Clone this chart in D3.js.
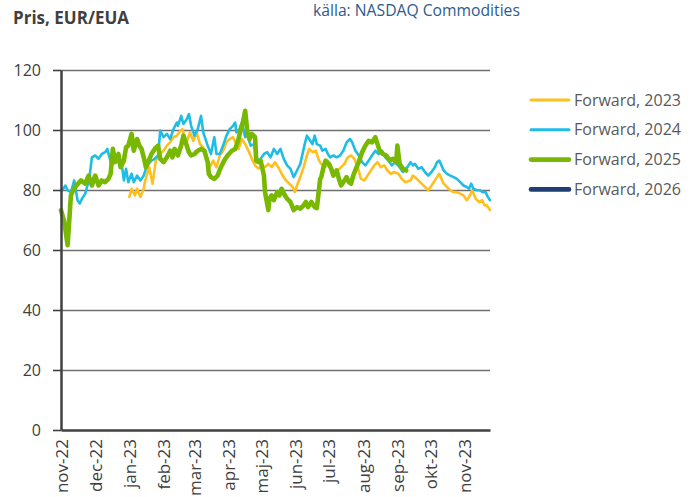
<!DOCTYPE html>
<html><head><meta charset="utf-8">
<script src="https://cdn.jsdelivr.net/npm/d3@7"></script>
<style>
html,body{margin:0;padding:0;background:#fff;}
svg{display:block;font-family:"Open Sans",sans-serif;}
</style></head>
<body><svg id="c" width="700" height="497"></svg>
<script>
// ---------- DATA ----------
const seriesNames = ["Forward, 2023", "Forward, 2024", "Forward, 2025", "Forward, 2026"];
const seriesColors = ["#FFC01E", "#1FBDE6", "#78B800", "#1B3F73"];
const xTickLabels = ["nov-22","dec-22","jan-23","feb-23","mar-23","apr-23","maj-23","jun-23","jul-23","aug-23","sep-23","okt-23","nov-23"];
const yTickValues = [0, 20, 40, 60, 80, 100, 120];

const dates2023 = ["2023-01-02","2023-01-04","2023-01-07","2023-01-09","2023-01-12","2023-01-15","2023-01-16","2023-01-20","2023-01-23","2023-01-26","2023-01-30","2023-02-02","2023-02-05","2023-02-08","2023-02-11","2023-02-14","2023-02-16","2023-02-19","2023-02-23","2023-02-26","2023-03-01","2023-03-04","2023-03-07","2023-03-10","2023-03-13","2023-03-16","2023-03-19","2023-03-22","2023-03-25","2023-03-28","2023-03-31","2023-04-03","2023-04-06","2023-04-11","2023-04-14","2023-04-17","2023-04-20","2023-04-23","2023-04-26","2023-04-29","2023-05-02","2023-05-05","2023-05-08","2023-05-11","2023-05-14","2023-05-17","2023-05-21","2023-05-24","2023-05-27","2023-05-30","2023-06-01","2023-06-03","2023-06-06","2023-06-09","2023-06-12","2023-06-14","2023-06-17","2023-06-20","2023-06-23","2023-06-25","2023-06-28","2023-07-01","2023-07-04","2023-07-07","2023-07-10","2023-07-13","2023-07-16","2023-07-19","2023-07-22","2023-07-25","2023-07-28","2023-07-31","2023-08-03","2023-08-06","2023-08-09","2023-08-12","2023-08-15","2023-08-18","2023-08-21","2023-08-24","2023-08-27","2023-08-30","2023-09-03","2023-09-06","2023-09-09","2023-09-14","2023-09-16","2023-09-18","2023-09-21","2023-09-24","2023-09-27","2023-09-30","2023-10-03","2023-10-06","2023-10-08","2023-10-10","2023-10-12","2023-10-14","2023-10-17","2023-10-20","2023-10-23","2023-10-26","2023-10-29","2023-11-01","2023-11-04","2023-11-06","2023-11-09","2023-11-12","2023-11-15","2023-11-18","2023-11-20","2023-11-22","2023-11-25"];
const values2023 = [77.7,80.4,78.2,80.4,77.7,80.4,82.6,87.6,82.1,89.8,92.0,93.1,94.8,95.9,97.6,98.1,99.2,100.3,95.9,99.2,96.4,99.2,95.3,94.2,90.9,87.6,89.8,87.6,91.5,93.1,95.9,97.0,97.6,93.7,97.0,95.3,93.1,90.4,88.2,87.1,88.2,87.6,88.7,87.6,89.3,87.6,84.8,83.2,82.1,81.0,79.3,81.5,84.3,87.6,91.5,93.7,92.6,93.1,89.8,88.7,87.6,88.2,87.1,86.0,86.5,87.6,88.7,90.9,91.5,90.4,87.6,83.7,83.2,84.8,86.5,88.2,89.3,87.6,88.2,86.5,85.4,86.0,85.4,83.7,82.6,83.2,84.8,84.3,83.2,82.1,81.0,79.9,81.5,83.2,84.3,85.4,83.7,82.1,81.0,79.9,79.3,79.3,78.8,78.2,76.6,77.7,79.9,77.1,76.0,76.6,74.9,74.9,73.3];

const dates2024 = ["2022-11-01","2022-11-03","2022-11-05","2022-11-07","2022-11-10","2022-11-13","2022-11-16","2022-11-18","2022-11-20","2022-11-23","2022-11-25","2022-11-27","2022-11-29","2022-12-02","2022-12-05","2022-12-08","2022-12-11","2022-12-13","2022-12-15","2022-12-17","2022-12-20","2022-12-23","2022-12-26","2022-12-28","2022-12-30","2023-01-01","2023-01-04","2023-01-06","2023-01-09","2023-01-12","2023-01-15","2023-01-18","2023-01-22","2023-01-25","2023-01-28","2023-01-30","2023-02-02","2023-02-05","2023-02-08","2023-02-11","2023-02-14","2023-02-15","2023-02-18","2023-02-20","2023-02-23","2023-02-25","2023-02-27","2023-03-02","2023-03-05","2023-03-08","2023-03-10","2023-03-14","2023-03-17","2023-03-20","2023-03-22","2023-03-25","2023-03-28","2023-03-31","2023-04-03","2023-04-06","2023-04-08","2023-04-09","2023-04-12","2023-04-14","2023-04-17","2023-04-18","2023-04-22","2023-04-25","2023-04-27","2023-04-30","2023-05-04","2023-05-07","2023-05-10","2023-05-13","2023-05-16","2023-05-19","2023-05-22","2023-05-25","2023-05-28","2023-05-31","2023-06-03","2023-06-06","2023-06-08","2023-06-10","2023-06-12","2023-06-14","2023-06-17","2023-06-19","2023-06-21","2023-06-24","2023-06-26","2023-06-29","2023-07-01","2023-07-03","2023-07-06","2023-07-09","2023-07-12","2023-07-15","2023-07-18","2023-07-21","2023-07-23","2023-07-26","2023-07-29","2023-08-01","2023-08-04","2023-08-07","2023-08-10","2023-08-13","2023-08-16","2023-08-19","2023-08-22","2023-08-25","2023-08-28","2023-08-31","2023-09-04","2023-09-07","2023-09-11","2023-09-14","2023-09-16","2023-09-18","2023-09-21","2023-09-24","2023-09-27","2023-09-30","2023-10-03","2023-10-06","2023-10-08","2023-10-10","2023-10-12","2023-10-14","2023-10-17","2023-10-20","2023-10-23","2023-10-26","2023-10-29","2023-11-01","2023-11-04","2023-11-06","2023-11-08","2023-11-10","2023-11-13","2023-11-16","2023-11-18","2023-11-21","2023-11-23","2023-11-25"];
const values2024 = [79.9,80.4,81.5,79.9,79.3,83.2,76.6,75.5,77.1,78.8,81.5,84.8,90.9,91.5,90.4,92.0,92.6,93.7,90.9,88.2,89.8,89.3,88.7,83.2,87.1,82.6,85.4,82.6,84.8,83.2,84.8,88.2,89.8,90.4,91.5,99.8,97.6,98.7,97.0,100.3,102.5,101.4,104.7,102.0,103.6,105.3,101.4,98.1,100.3,104.7,99.2,94.8,92.0,97.6,92.0,92.0,94.8,98.1,100.3,101.4,102.5,99.2,100.3,102.5,97.6,99.2,94.8,95.3,90.9,89.8,92.0,92.6,90.9,93.7,92.0,93.7,90.4,88.2,87.1,84.3,86.5,88.7,92.0,95.3,98.1,97.0,95.3,98.1,95.3,94.8,93.1,93.7,92.0,90.9,91.5,90.9,91.5,93.1,95.9,97.0,95.9,93.1,91.5,89.3,88.2,89.8,91.5,93.1,92.0,93.1,90.9,89.8,88.2,89.3,87.6,86.0,87.6,89.3,88.2,88.7,87.1,87.6,86.0,84.8,86.0,87.6,89.3,89.8,88.2,86.5,85.4,84.8,84.3,83.7,82.6,81.5,81.0,80.4,82.1,80.4,79.9,79.9,79.3,79.3,77.7,76.6];

const dates2025 = ["2022-11-01","2022-11-04","2022-11-07","2022-11-10","2022-11-12","2022-11-15","2022-11-19","2022-11-23","2022-11-26","2022-11-29","2022-12-02","2022-12-05","2022-12-08","2022-12-11","2022-12-14","2022-12-16","2022-12-18","2022-12-20","2022-12-23","2022-12-25","2022-12-28","2022-12-30","2023-01-01","2023-01-04","2023-01-06","2023-01-09","2023-01-11","2023-01-13","2023-01-15","2023-01-17","2023-01-19","2023-01-22","2023-01-25","2023-01-28","2023-01-30","2023-02-02","2023-02-05","2023-02-08","2023-02-10","2023-02-12","2023-02-15","2023-02-18","2023-02-20","2023-02-23","2023-02-25","2023-02-27","2023-03-02","2023-03-05","2023-03-08","2023-03-11","2023-03-14","2023-03-15","2023-03-17","2023-03-20","2023-03-23","2023-03-26","2023-03-29","2023-04-01","2023-04-05","2023-04-08","2023-04-11","2023-04-13","2023-04-15","2023-04-17","2023-04-19","2023-04-21","2023-04-23","2023-04-26","2023-04-27","2023-04-29","2023-05-01","2023-05-04","2023-05-05","2023-05-08","2023-05-09","2023-05-11","2023-05-13","2023-05-16","2023-05-18","2023-05-20","2023-05-23","2023-05-25","2023-05-28","2023-05-31","2023-06-03","2023-06-06","2023-06-09","2023-06-11","2023-06-13","2023-06-16","2023-06-19","2023-06-21","2023-06-24","2023-06-25","2023-06-27","2023-06-29","2023-07-02","2023-07-04","2023-07-06","2023-07-09","2023-07-11","2023-07-13","2023-07-15","2023-07-18","2023-07-20","2023-07-22","2023-07-24","2023-07-27","2023-07-29","2023-08-01","2023-08-04","2023-08-07","2023-08-10","2023-08-13","2023-08-15","2023-08-17","2023-08-20","2023-08-23","2023-08-26","2023-08-29","2023-09-01","2023-09-02","2023-09-04","2023-09-07","2023-09-10"];
const values2025 = [73.3,69.4,61.6,78.2,79.9,81.5,83.2,82.1,84.8,81.5,84.8,81.5,83.2,82.6,83.7,85.4,93.7,89.3,92.0,87.6,89.8,94.2,94.8,98.7,93.1,97.0,94.8,93.7,90.9,87.6,89.3,92.0,93.7,94.8,90.4,89.3,90.9,93.1,90.9,93.7,91.5,94.8,98.1,94.8,92.6,91.5,92.0,93.1,93.7,93.1,89.3,85.4,84.3,83.7,84.8,87.6,89.8,91.5,93.1,93.7,97.0,100.3,102.5,106.4,99.2,97.0,98.7,97.6,89.8,89.3,89.8,84.8,79.3,73.3,77.1,78.2,76.6,79.3,78.2,80.4,78.2,77.1,76.0,73.3,74.3,73.8,74.9,76.0,74.3,76.0,74.3,74.0,83.7,84.3,87.6,89.8,88.7,87.1,84.8,86.5,83.7,81.5,82.6,84.3,82.6,82.1,84.8,87.6,89.3,92.6,94.8,96.4,95.9,97.6,95.3,93.1,92.0,91.5,89.8,90.4,89.3,94.8,88.7,87.1,86.5];

const dates2026 = [];
const values2026 = [];

// ---------- CHART ----------
const svg = d3.select("#c");
const parse = d3.timeParse("%Y-%m-%d");
const mLeft = 61, mRight = 490, mTop = 70, mBottom = 430;

const x = d3.scaleTime().domain([parse("2022-11-01"), parse("2023-11-25")]).range([mLeft, mRight]);
const y = d3.scaleLinear().domain([0, 120]).range([mBottom, mTop]);

const axisColor = "#404040";
const gridColor = "#6f6f6f";

// gridlines
svg.append("g").attr("transform", `translate(${mLeft},0)`)
  .call(d3.axisLeft(y).tickValues(yTickValues.filter(v => v > 0)).tickSize(-(mRight - mLeft)).tickFormat(""))
  .call(g => g.select(".domain").remove())
  .call(g => g.selectAll("line").attr("stroke", gridColor).attr("stroke-width", 1.3));

// series
const series = [
  {dates: dates2023, values: values2023, width: 2.6},
  {dates: dates2024, values: values2024, width: 2.6},
  {dates: dates2025, values: values2025, width: 4.6},
  {dates: dates2026, values: values2026, width: 4.6}
];
const line = d3.line().defined(d => d[1] != null && !isNaN(d[1])).x(d => x(d[0])).y(d => y(d[1]));
series.forEach((s, i) => {
  const n = Math.min(s.dates.length, s.values.length);
  const pts = s.dates.slice(0, n).map((d, j) => [parse(d), s.values[j]]);
  if (!pts.length) return;
  svg.append("path").datum(pts).attr("d", line)
    .attr("fill", "none").attr("stroke", seriesColors[i])
    .attr("stroke-width", s.width).attr("stroke-linejoin", "round").attr("stroke-linecap", "round");
});

// y axis
svg.append("g").attr("transform", `translate(${mLeft},0)`)
  .call(d3.axisLeft(y).tickValues(yTickValues).tickSize(8).tickPadding(12).tickSizeOuter(0))
  .call(g => g.select(".domain").attr("stroke", axisColor).attr("stroke-width", 2.5))
  .call(g => g.selectAll(".tick line").attr("stroke", axisColor).attr("stroke-width", 1.6))
  .call(g => g.selectAll("text").attr("fill", "#404040").attr("font-size", 16).attr("font-family", "Open Sans"));

// x axis
const monthTicks = d3.timeMonth.range(parse("2022-11-01"), parse("2023-11-02"));
svg.append("g").attr("transform", `translate(0,${mBottom})`)
  .call(d3.axisBottom(x).tickValues(monthTicks).tickSize(0).tickSizeOuter(0)
        .tickFormat((d, i) => xTickLabels[i]))
  .call(g => g.select(".domain").attr("stroke", axisColor).attr("stroke-width", 2.5))
  .call(g => g.selectAll("text")
      .attr("fill", "#404040").attr("font-size", 17).attr("font-family", "Open Sans")
      .attr("text-anchor", "end").attr("transform", "rotate(-90)")
      .attr("x", -9).attr("y", 1).attr("dy", "0.35em"));

// title + source
svg.append("text").attr("x", 13).attr("y", 24).attr("font-size", 17).attr("font-weight", "bold")
  .attr("fill", "#404040").text("Pris, EUR/EUA");
svg.append("text").attr("x", 313).attr("y", 16).attr("font-size", 15.7)
  .attr("fill", "#2C5B8E").text("källa: NASDAQ Commodities");

// legend
const legend = svg.append("g");
seriesNames.forEach((name, i) => {
  const ly = 100 + i * 29.8;
  legend.append("line").attr("x1", 531).attr("x2", 569).attr("y1", ly).attr("y2", ly)
    .attr("stroke", seriesColors[i]).attr("stroke-width", i < 2 ? 3 : 4.6).attr("stroke-linecap", "round");
  legend.append("text").attr("x", 574).attr("y", ly + 5.5).attr("font-size", 16)
    .attr("fill", "#595959").text(name);
});
</script></body></html>
